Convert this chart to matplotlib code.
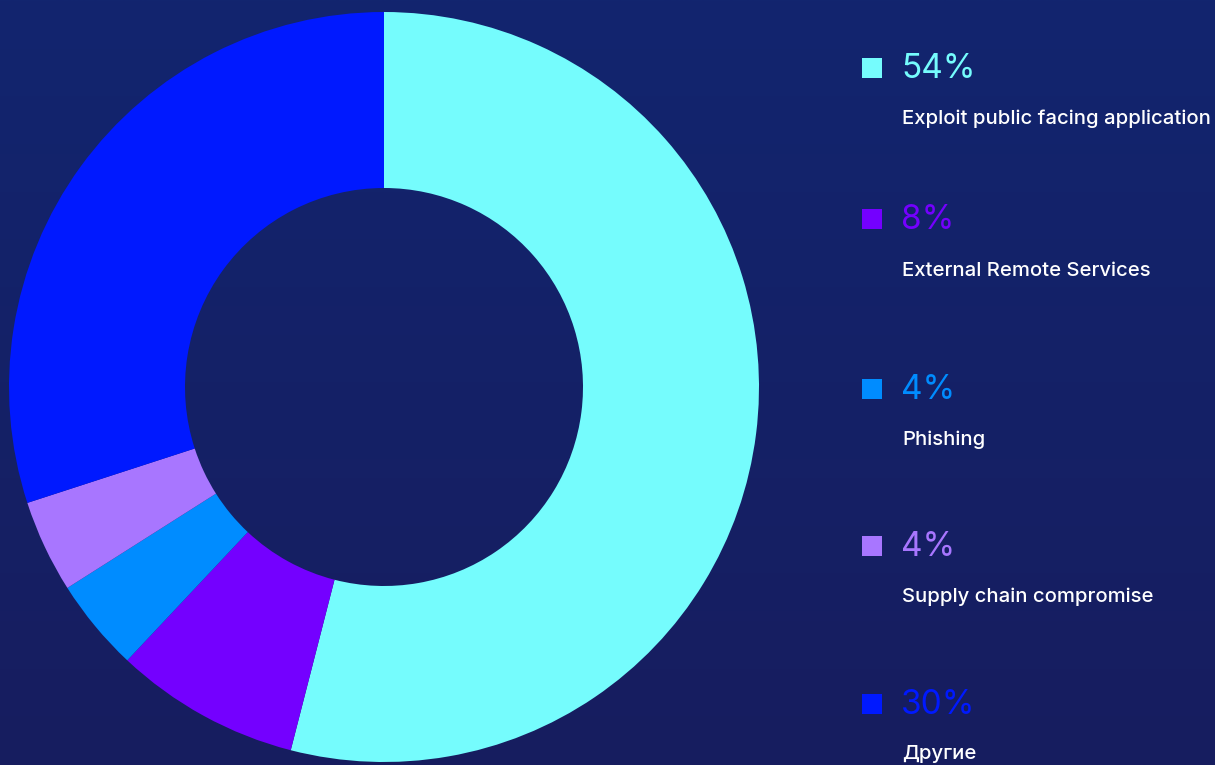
import matplotlib
matplotlib.use("Agg")
import matplotlib.pyplot as plt
import numpy as np
from matplotlib.patches import Rectangle

plt.rcParams['font.family'] = ['Inter', 'DejaVu Sans']

# data
labels = ["Exploit public facing application", "External Remote Services",
          "Phishing", "Supply chain compromise", "Другие"]
values = [54, 8, 4, 4, 30]
colors = ["#75FCFD", "#7400FF", "#008CFF", "#A876FF", "#0019FF"]

W, H = 1215, 765
fig = plt.figure(figsize=(W / 100, H / 100), dpi=100)

# background gradient
bg = fig.add_axes([0, 0, 1, 1])
top = np.array([18, 37, 111]) / 255
bot = np.array([23, 29, 95]) / 255
t = np.linspace(0, 1, 256)[:, None]
grad = top + (bot - top) * t
bg.imshow(grad[:, None, :].repeat(2, axis=1), aspect='auto', extent=[0, W, H, 0])
bg.set_xlim(0, W)
bg.set_ylim(H, 0)
bg.axis('off')

# donut
cx, cy, r = 384, 387, 375
ax = fig.add_axes([(cx - r) / W, (H - cy - r) / H, 2 * r / W, 2 * r / H])
ax.pie(values, colors=colors, startangle=90, counterclock=False, radius=1,
       wedgeprops=dict(width=1 - 199 / 375, linewidth=0))
ax.set_xlim(-1, 1)
ax.set_ylim(-1, 1)
ax.set_aspect('equal')
ax.axis('off')

# legend
pct_y = [68, 219, 389, 546, 704]
lab_y = [119, 271, 440, 597, 754]
for i in range(len(values)):
    bg.add_patch(Rectangle((862, pct_y[i] - 10), 20, 20, color=colors[i], lw=0))
    bg.text(901, pct_y[i] + 1, f"{values[i]}%", color=colors[i], fontsize=24,
            va='center', ha='left')
    bg.text(902, lab_y[i], labels[i], color='white', fontsize=14.6,
            fontweight='medium', va='center', ha='left')

fig.savefig("out.png", dpi=100)
